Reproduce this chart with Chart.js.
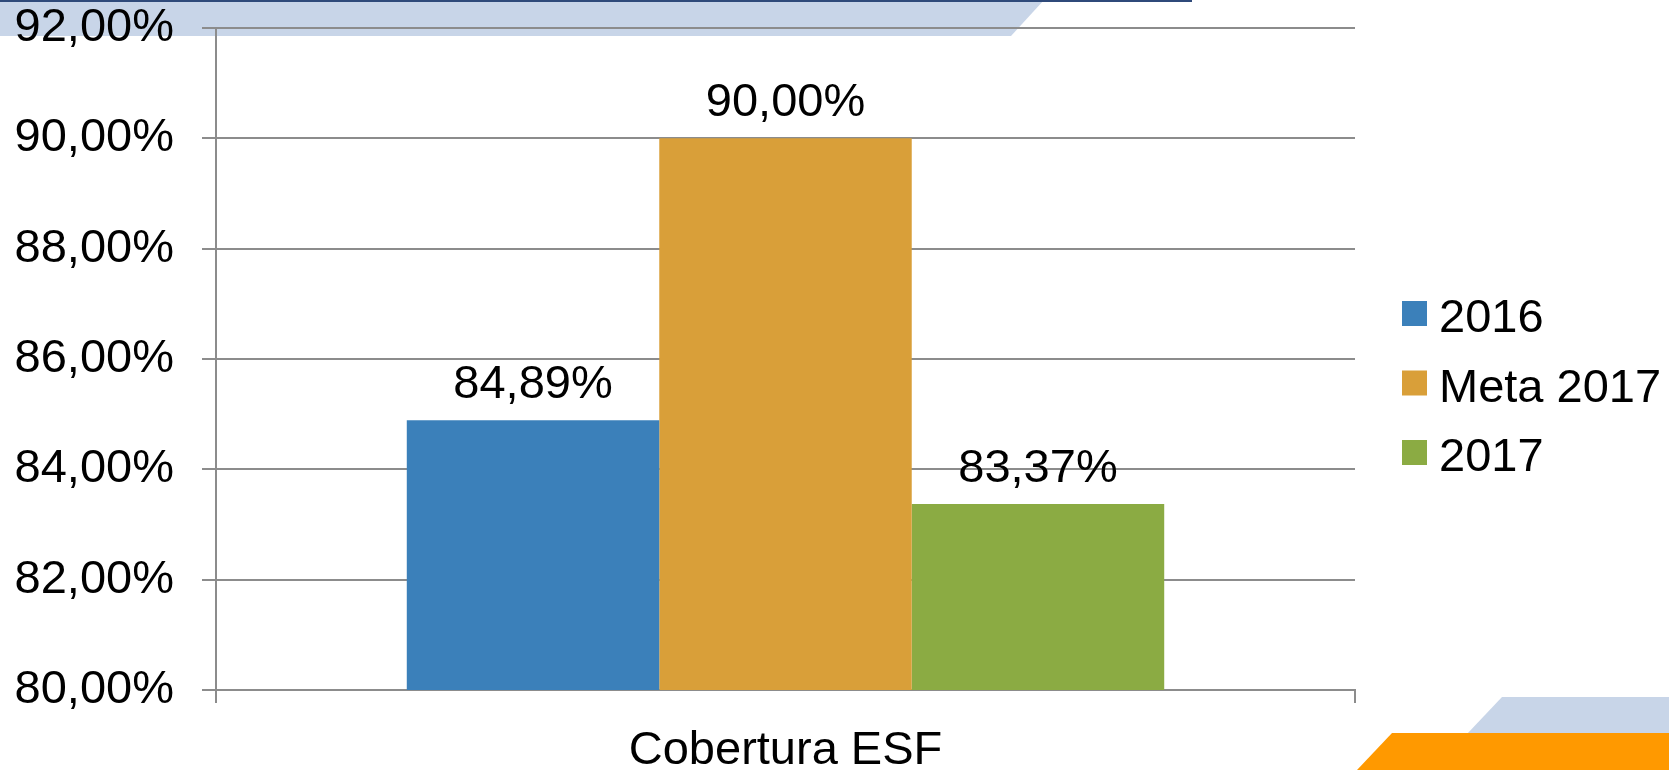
<!DOCTYPE html>
<html>
<head>
<meta charset="utf-8">
<script src="https://cdn.jsdelivr.net/npm/chart.js@4.4.0/dist/chart.umd.min.js"></script>
<style>
  body { margin: 0; background: #fff; }
  #wrap { width: 1669px; height: 770px; }
</style>
</head>
<body>
<div id="wrap"><canvas id="myChartCobertura" width="1669" height="770"></canvas></div>
<script>
// Chart data
const categories = ["Cobertura ESF"];
const seriesNames = ["2016", "Meta 2017", "2017"];
const values2016 = [84.89];
const valuesMeta2017 = [90.0];
const values2017 = [83.37];
const yTicks = [80, 82, 84, 86, 88, 90, 92];

const colors = ["#3b80ba", "#d99f39", "#8bab43"];
const font = "'Liberation Sans', Arial, sans-serif";
const gridColor = "#8c8c8c";

const formatPct = (v) => v.toFixed(2).replace(".", ",") + "%";

// Slide decorations behind the chart
const slideBackground = {
  id: "slideBackground",
  beforeDraw(chart) {
    const ctx = chart.ctx;
    ctx.save();
    ctx.fillStyle = "#fff";
    ctx.fillRect(0, 0, chart.width, chart.height);
    // top band
    ctx.fillStyle = "#c8d5e8";
    ctx.beginPath();
    ctx.moveTo(0, 0);
    ctx.lineTo(1044, 0);
    ctx.lineTo(1011, 36);
    ctx.lineTo(0, 36);
    ctx.closePath();
    ctx.fill();
    ctx.fillStyle = "#2f4a7a";
    ctx.fillRect(0, 0, 1192, 2);
    // bottom right bands
    ctx.fillStyle = "#c8d5e8";
    ctx.beginPath();
    ctx.moveTo(1502, 697);
    ctx.lineTo(1669, 697);
    ctx.lineTo(1669, 734);
    ctx.lineTo(1467, 734);
    ctx.closePath();
    ctx.fill();
    ctx.fillStyle = "#ff9900";
    ctx.beginPath();
    ctx.moveTo(1392, 733);
    ctx.lineTo(1669, 733);
    ctx.lineTo(1669, 770);
    ctx.lineTo(1357, 770);
    ctx.closePath();
    ctx.fill();
    ctx.restore();
  },
};

// Value labels above the bars
const barLabels = {
  id: "barLabels",
  afterDatasetsDraw(chart) {
    const ctx = chart.ctx;
    ctx.save();
    ctx.font = "47px " + font;
    ctx.fillStyle = "#000";
    ctx.textAlign = "center";
    ctx.textBaseline = "alphabetic";
    chart.data.datasets.forEach((ds, i) => {
      chart.getDatasetMeta(i).data.forEach((bar, j) => {
        ctx.fillText(formatPct(ds.data[j]), bar.x, bar.y - 22);
      });
    });
    ctx.restore();
  },
};

// Legend on the right (squares + series names)
const sideLegend = {
  id: "sideLegend",
  afterDraw(chart) {
    const ctx = chart.ctx;
    const x = chart.chartArea.right + 47;
    const rowGap = 69.5;
    const midY = 383;
    const n = chart.data.datasets.length;
    ctx.save();
    ctx.font = "47px " + font;
    ctx.fillStyle = "#000";
    ctx.textBaseline = "alphabetic";
    chart.data.datasets.forEach((ds, i) => {
      const cy = midY + (i - (n - 1) / 2) * rowGap;
      ctx.fillStyle = ds.backgroundColor;
      ctx.fillRect(x, cy - 12.5, 25, 25);
      ctx.fillStyle = "#000";
      ctx.fillText(ds.label, x + 37, cy + 18.5);
    });
    ctx.restore();
  },
};

const ctx = document.getElementById("myChartCobertura").getContext("2d");
new Chart(ctx, {
  type: "bar",
  data: {
    labels: categories,
    datasets: [
      { label: seriesNames[0], data: values2016, backgroundColor: colors[0] },
      { label: seriesNames[1], data: valuesMeta2017, backgroundColor: colors[1] },
      { label: seriesNames[2], data: values2017, backgroundColor: colors[2] },
    ],
  },
  options: {
    responsive: false,
    animation: false,
    devicePixelRatio: 1,
    datasets: {
      bar: { barPercentage: 1, categoryPercentage: 0.665 },
    },
    layout: { padding: { top: 0, right: 314, bottom: 0, left: 0 } },
    plugins: {
      tooltip: { enabled: false },
      legend: { display: false },
    },
    scales: {
      x: {
        afterFit: (s) => { s.height = 80; },
        grid: {
          drawOnChartArea: false,
          color: gridColor,
          lineWidth: 2,
          tickLength: 13,
        },
        border: { color: gridColor, width: 2 },
        ticks: { color: "#000", padding: 20, font: { family: font, size: 47 } },
      },
      y: {
        min: yTicks[0],
        max: yTicks[yTicks.length - 1],
        afterFit: (s) => {
          s.width = 216;
          s.paddingTop = 28;
          s.paddingBottom = 28;
        },
        grid: { color: gridColor, lineWidth: 2, tickLength: 14 },
        border: { color: gridColor, width: 2 },
        ticks: {
          stepSize: yTicks[1] - yTicks[0],
          color: "#000",
          padding: 28,
          font: { family: font, size: 47 },
          callback: (v) => formatPct(v),
        },
      },
    },
  },
  plugins: [slideBackground, barLabels, sideLegend],
});
</script>
</body>
</html>
